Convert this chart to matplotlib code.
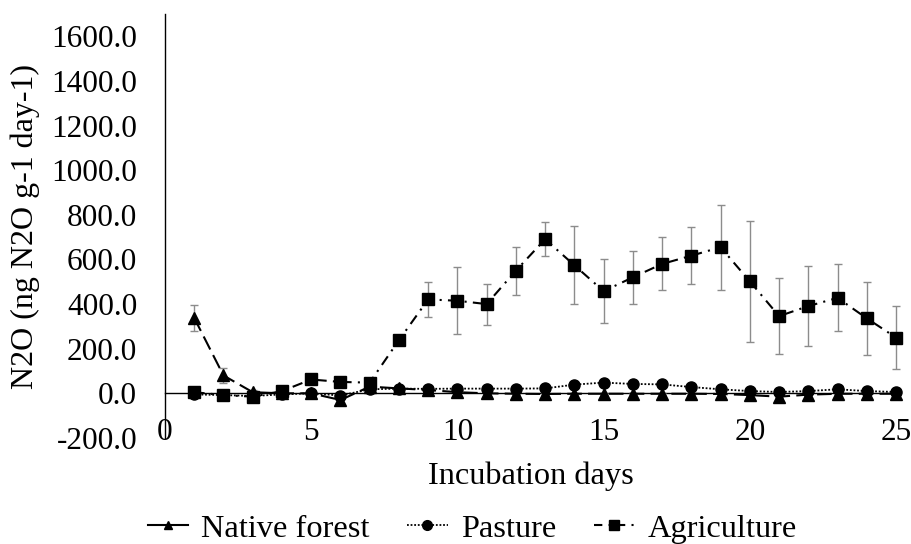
import matplotlib
matplotlib.use("Agg")
import matplotlib.pyplot as plt
from matplotlib.lines import Line2D

plt.rcParams['font.family'] = ['Liberation Serif', 'DejaVu Serif']

days = list(range(1, 26))

native_forest = [338, 80, 5, 0, 0, -30, 30, 22, 15, 5, 0, -2, -3, -2, -2, -2, -2, -2, -3, -8, -15, -6, -2, -2, -2]
native_forest_err = [60, 35, 8, 5, 5, 10, 8, 6, 5, 4, 4, 4, 4, 4, 4, 4, 4, 4, 4, 5, 6, 5, 4, 4, 4]

pasture = [-5, -8, -12, -5, 0, -10, 18, 21, 20, 21, 21, 21, 22, 39, 48, 42, 40, 28, 18, 10, 6, 10, 18, 10, 6]
pasture_err = [5, 5, 5, 5, 5, 6, 6, 6, 6, 6, 6, 6, 6, 8, 8, 8, 8, 6, 6, 5, 5, 5, 5, 5, 5]

agriculture = [5, -8, -15, 10, 62, 51, 48, 238, 421, 415, 400, 550, 691, 574, 458, 520, 580, 617, 655, 502, 346, 391, 428, 336, 250]
agriculture_err = [8, 8, 8, 8, 10, 10, 10, 12, 79, 150, 92, 108, 76, 174, 144, 120, 119, 128, 190, 270, 171, 180, 150, 162, 141]

yticks = list(range(-200, 1601, 200))
xticks = [0, 5, 10, 15, 20, 25]

fig = plt.figure(figsize=(9.12, 5.44), dpi=100)
ax = fig.add_axes([0.1809, 0.195, 0.8016, 0.779])

err_kw = dict(ecolor='#8c8c8c', elinewidth=1.0, capsize=2.6, capthick=1.0)


def unclip(container):
    line, caps, bars = container
    for artist in (line, *caps, *bars):
        artist.set_clip_on(False)


nf = ax.errorbar(days, native_forest, yerr=native_forest_err, color='black',
                 marker='^', markersize=8, linewidth=1.5, label='Native forest',
                 zorder=3, **err_kw)
nf[0].set_dashes((7, 3))

pa = ax.errorbar(days, pasture, yerr=pasture_err, color='black',
                 marker='o', markersize=8, linewidth=1.3, label='Pasture',
                 zorder=4, **err_kw)
pa[0].set_dashes((1, 1))

ag = ax.errorbar(days, agriculture, yerr=agriculture_err, color='black',
                 marker='s', markersize=9, linewidth=1.5, label='Agriculture',
                 zorder=5, **err_kw)
ag[0].set_dashes((5, 3, 1, 3))

for c in (nf, pa, ag):
    unclip(c)

ax.set_xlim(0, 25)
ax.set_ylim(-200, 1700)
ax.set_yticks(yticks)
ax.set_yticklabels([f"{v:.1f}" for v in yticks])
ax.set_xticks(xticks)

ax.spines['top'].set_visible(False)
ax.spines['right'].set_visible(False)
ax.spines['bottom'].set_position(('data', 0))
for s in ('left', 'bottom'):
    ax.spines[s].set_linewidth(1.0)
    ax.spines[s].set_color('black')

ax.tick_params(axis='both', length=0, labelsize=22.5, colors='black')
ax.tick_params(axis='y', pad=20)
ax.tick_params(axis='x', pad=18)

ax.set_ylabel('N2O (ng N2O g-1 day-1)', fontsize=23, labelpad=8)
ax.set_xlabel('Incubation days', fontsize=23.3)
ax.xaxis.set_label_coords(0.5, -0.055, transform=ax.transAxes)

# Legend keys use plain line samples with smaller markers
keys = [
    Line2D([], [], color='black', marker='^', markersize=6, linewidth=1.5),
    Line2D([], [], color='black', marker='o', markersize=7, linewidth=1.3, dashes=(1, 1)),
    Line2D([], [], color='black', marker='s', markersize=7.5, linewidth=1.5, dashes=(4, 3, 1, 3)),
]
fig.legend(keys, ['Native forest', 'Pasture', 'Agriculture'],
           loc='center', bbox_to_anchor=(0.5175, 0.028), ncol=3, frameon=False,
           fontsize=23.3, handlelength=1.25, handletextpad=0.4,
           columnspacing=1.17)

fig.savefig('out.png', dpi=100)
